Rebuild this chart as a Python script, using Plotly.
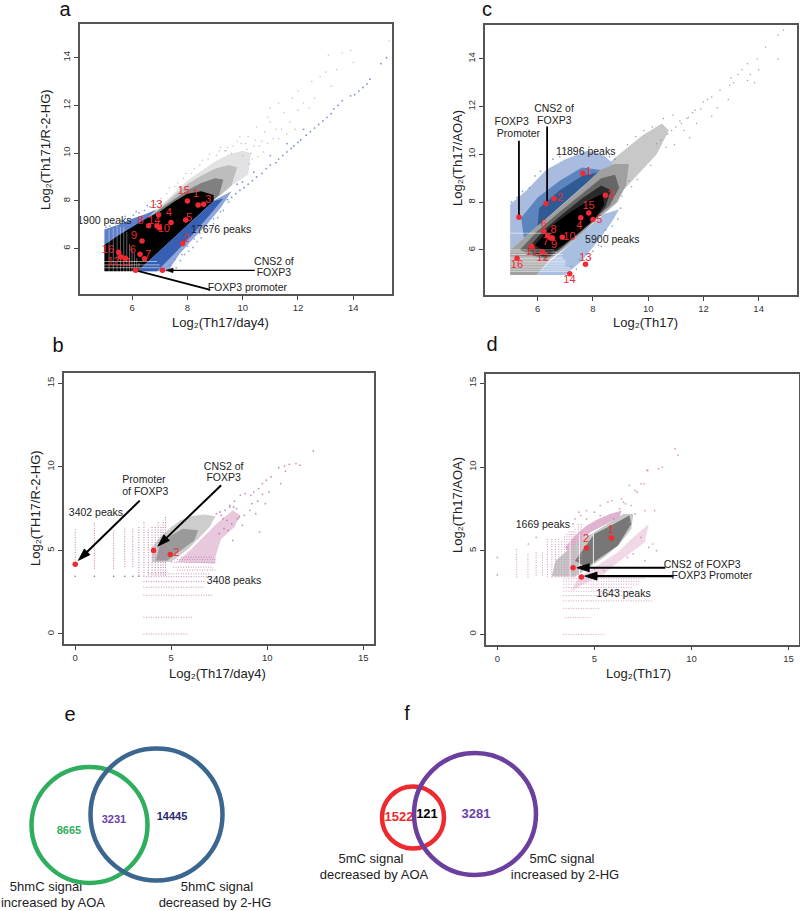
import plotly.graph_objects as go

# ---------- panel a ----------
a_gray_halo_x = [6.5,7,7.5,8,8.5,9,9.5,10,10.3,10.2,9.6,9.2,8.9]
a_gray_halo_y = [7.2,7.75,8.3,8.85,9.25,9.65,9.95,10.1,10.0,9.1,8.65,8.25,8.0]
a_gray_soft_x = [6.5,7,7.5,8,8.5,9,9.5,9.8,9.6,9.2,8.9]
a_gray_soft_y = [7.2,7.7,8.2,8.7,9.05,9.35,9.5,9.4,8.65,8.25,8.0]
a_gray_mid_x = [6.5,7,7.5,8,8.5,9,9.3,9.15,8.9]
a_gray_mid_y = [7.2,7.65,8.05,8.45,8.75,8.95,8.9,8.25,8.0]
a_black_x = [5,5,5.5,6,6.5,7,7.5,8,8.5,8.95,8.95,6.2]
a_black_y = [5.05,6.15,6.55,6.9,7.25,7.55,7.95,8.3,8.4,8.25,8.0,5.05]
a_blue_low_x = [6.2,7.3,7.7,8.2,8.7,9.2,9.6,9.0]
a_blue_low_y = [5.05,5.05,5.75,6.4,7.0,7.7,8.4,8.05]
a_blue_solid_x = [6.2,6.9,7.5,8.2,8.8,9.3,8.95]
a_blue_solid_y = [5.05,5.05,5.75,6.6,7.4,8.1,8.0]
a_blue_up_x = [5,5,5.5,6,6.5,6.9,6.5,6,5.5]
a_blue_up_y = [6.1,6.8,7.0,7.25,7.45,7.65,7.2,6.85,6.5]
a_tail_blue_x = [15.2,15.0,14.6,14.5,14.35,14.2,14.05,13.9,13.6,13.45,13.3,13.2,13.05,12.9,12.75,12.6,12.45,12.3,12.1,12.0,11.85,11.75,11.6,11.45,11.3,11.2,11.0,10.85,10.7,10.5,10.35,10.2,10.05,9.9,9.75,9.6,9.45,11.0,11.6,12.2,10.4,10.0,9.8]
a_tail_blue_y = [14.0,13.75,13.1,12.9,12.75,12.6,12.45,12.4,12.2,12.0,11.85,11.65,11.5,11.35,11.2,11.05,10.9,10.75,10.55,10.45,10.3,10.2,10.05,9.9,9.75,9.6,9.5,9.35,9.15,9.0,8.85,8.7,8.55,8.45,8.3,8.15,8.05,9.9,10.4,11.0,9.2,8.8,8.7]
a_tail_gray_x = [13.1,13.6,13.9,13.0,13.4,12.5,12.8,13.2,12.0,11.8,11.3,11.0,11.5,12.0,12.4,11.0,10.5,10.8,10.2,10.1,9.9,9.2,10.4,10.7,11.2,11.7,12.2,12.6,10.0,10.3,9.6,9.4,10.9,11.4,9.8,15.3,14.0,10.55,10.6,10.9,11.1,10.35,10.45,11.3,11.6,11.9,10.15,10.25,10.75,9.45,9.15,8.8,8.55,8.25,7.95,7.65,7.35,7.05,6.75,8.45,8.75,9.05,9.35,9.65,9.95,8.15,7.85,7.55,7.25]
a_tail_gray_y = [14.1,14.2,14.3,13.4,13.5,13.0,13.2,12.8,12.6,12.3,12.1,11.9,11.7,11.8,11.9,11.3,11.1,10.9,10.7,10.4,10.7,10.25,10.3,10.5,11.0,11.3,12.1,12.3,9.9,10.0,10.0,10.1,11.5,11.0,10.5,14.7,13.8,9.85,10.3,10.4,10.6,9.75,10.55,10.6,10.8,11.0,10.15,9.55,10.05,10.25,10.1,9.95,9.7,9.35,9.15,8.75,8.55,8.1,7.8,9.5,9.75,9.9,10.1,10.3,10.4,9.15,8.95,8.6,8.3]
a_fringe_x = [5.05,5.2,5.4,5.6,5.85,6.05,6.25,6.45,6.65,6.85,7.05,5.3,5.75,6.15,6.55,7.45,7.6,7.75,7.9,8.05,8.2,8.35,8.5,8.65,8.8,8.95,9.1,9.3,7.35,7.55,7.8,8.0,8.25,8.45,8.7,8.95,9.2,9.5]
a_fringe_y = [6.9,6.95,7.05,7.15,7.25,7.4,7.5,7.6,7.75,7.85,7.95,7.1,7.35,7.55,7.8,5.1,5.2,5.5,5.75,5.9,6.05,6.3,6.45,6.7,6.85,7.05,7.3,7.6,5.3,5.55,5.75,6.1,6.4,6.65,6.95,7.25,7.55,7.95]
a_red_x = [8.0,8.39,8.59,6.96,7.41,7.94,6.6,6.9,6.98,6.36,7.83,6.29,6.45,5.52,5.59,5.76,6.13,7.1]
a_red_y = [8.0,7.83,7.86,7.42,7.1,7.2,6.96,6.96,6.87,6.32,6.22,5.76,5.58,5.85,5.66,5.6,5.09,5.09]
a_num_text = ["15","1","3","13","4","5","8","14","10","9","2","6","7","16","12","11"]
a_num_x = [7.87,8.31,8.76,6.88,7.33,8.06,6.31,6.8,7.15,6.07,7.96,6.03,6.58,5.13,5.33,5.78]
a_num_y = [8.4,8.26,8.03,7.8,7.5,7.27,7.13,7.16,6.8,6.52,6.4,5.93,5.72,5.93,5.44,5.4]
a_txt = ["1900 peaks","17676 peaks","CNS2 of","FOXP3","FOXP3 promoter"]
a_txt_x = [5.0,9.22,11.13,11.13,10.17]
a_txt_y = [7.15,6.77,5.44,4.95,4.33]
a_stripe_x = [5.17,5.32,5.46,5.58,5.7,5.81,5.91,6.0,6.09,6.17,6.25]
a_stripe_top = [6.8,6.85,6.95,6.9,6.9,6.7,6.2,6.0,5.8,5.6,5.4]
a_hstripe_y = [5.2,5.32,5.46]
a_hstripe_right = [7.0,7.0,6.9]
a_line_cns_x = [10.44,7.24]
a_line_cns_y = [5.09,5.09]
a_line_pro_x = [8.83,6.13]
a_line_pro_y = [4.27,5.09]

# ---------- panel c ----------
c_blue_pale_x = [5,5,5.6,6.3,7.0,7.8,8.4,8.75,8.3]
c_blue_pale_y = [6,7.9,8.5,9.35,9.8,10.15,9.95,9.6,9.3]
c_blue_mid_x = [5.5,5.4,6.0,6.8,7.6,8.3]
c_blue_mid_y = [6.5,7.35,8.2,8.9,9.45,9.35]
c_blue_dark_x = [6.0,6.05,6.8,7.6,8.2]
c_blue_dark_y = [7.0,7.75,8.5,9.1,9.25]
c_halo_x = [8.26,9.0,9.8,10.5,10.75,10.3,9.6,9.1,8.9,8.3]
c_halo_y = [9.35,10.05,10.8,11.3,11.0,10.0,9.1,8.5,8.0,7.4]
c_blue_low_x = [5.96,7.0,7.6,8.2,8.7,8.95,8.4,7.5,6.85,6.45]
c_blue_low_y = [4.95,4.95,5.55,6.4,7.2,7.7,7.5,6.6,5.9,5.55]
c_gray_x = [5,5,5.3,6,6.8,7.6,8.26,8.8,9.3,9.2,8.85,8.3,7.6,6.9,6.45,5.96]
c_gray_y = [4.95,6.0,6.3,7.0,7.8,8.6,9.35,9.6,9.6,8.7,8.0,7.45,6.7,6.0,5.6,4.95]
c_mid_x = [5.35,6.0,6.8,7.6,8.3,8.8,8.95,8.6,8.2,7.5,6.9,6.3]
c_mid_y = [6.0,6.8,7.6,8.35,9.0,9.15,8.6,7.85,7.45,6.75,6.1,5.55]
c_dark_x = [5.6,6.2,6.9,7.6,8.3,8.65,8.45,8.0,7.4,6.8,6.3]
c_dark_y = [6.0,6.8,7.5,8.15,8.7,8.5,7.8,7.2,6.6,6.05,5.65]
c_black_x = [5.9,6.5,7.2,7.9,8.35,8.4,8.1,7.5,6.9,6.4]
c_black_y = [6.2,7.0,7.6,8.1,8.35,7.9,7.35,6.75,6.2,5.85]
c_tail_x = [14.9,14.7,14.7,14.25,13.95,13.6,14.0,13.4,13.25,13.0,13.1,13.6,12.95,12.6,12.3,12.15,12.0,11.9,11.7,11.6,11.4,11.2,11.0,11.3,11.75,12.3,12.5,12.9,10.85,10.7,10.45,10.3,10.95,11.5,13.85,13.7,9.25,9.55,9.85,10.15,10.55,10.9,10.1,9.6,9.4,9.05,11.15,11.45,9.3,10.65]
c_tail_y = [15.2,15.0,14.0,14.5,14.0,13.8,13.55,13.55,13.35,13.2,13.0,13.1,12.9,12.7,12.4,12.3,12.2,11.9,11.85,11.75,11.5,11.3,11.15,11.0,11.3,11.6,11.95,12.3,11.0,10.85,10.6,10.45,10.4,10.7,13.0,13.35,10.4,10.75,11.0,11.15,11.5,11.65,9.55,8.95,8.65,8.25,11.4,11.55,8.9,10.3]
c_fringe_x = [5.05,5.25,5.45,5.7,5.9,6.1,6.35,6.55,6.8,7.0,7.3,7.55,7.85,8.1,8.35,8.6,8.8,7.1,7.4,7.75,8.0,8.3,8.55,8.9,7.2,7.5,7.9,8.2,8.45,8.7,9.0]
c_fringe_y = [8.0,8.2,8.45,8.6,9.1,9.3,9.5,9.8,9.9,10.2,10.15,10.2,10.3,10.1,10.2,9.9,9.8,4.95,5.2,5.4,5.95,6.15,6.6,7.3,5.3,5.6,5.65,6.2,6.85,7.0,7.75]
c_red_x = [7.63,6.59,8.45,7.56,8.0,6.22,6.36,6.47,6.53,6.89,5.78,6.17,7.73,7.16,7.85,5.25,6.3,5.32]
c_red_y = [9.21,8.14,8.29,7.35,7.27,6.78,6.59,6.5,6.5,6.53,6.15,5.92,5.4,5.0,7.55,5.65,7.94,7.37]
c_num_text = ["1","2","3","4","5","6","7","8","9","10","11","12","13","14","15","16"]
c_num_x = [7.84,6.81,8.65,7.51,8.23,6.22,6.29,6.57,6.59,7.15,5.77,6.18,7.73,7.15,7.84,5.25]
c_num_y = [9.25,8.17,8.31,6.99,7.25,7.09,6.34,6.82,6.2,6.54,5.9,5.64,5.65,4.75,7.82,5.37]
c_txt = ["FOXP3","Promoter","CNS2 of","FOXP3","11896 peaks","5900 peaks"]
c_txt_x = [5.06,5.3,6.59,6.6,7.74,8.7]
c_txt_y = [11.33,10.83,11.9,11.38,10.08,6.42]
c_hstripe_y = [5.1,5.17,5.25,5.32,5.4,5.46,5.52,5.58,5.64,5.7,5.81,5.91,6.0,6.7]
c_hstripe_right = [7.2,7.2,7.2,7.0,7.0,7.0,7.0,7.0,6.9,6.9,6.9,6.7,6.6,6.5]
c_line_pro_x = [5.32,5.32]
c_line_pro_y = [10.57,7.37]
c_line_cns_x = [6.34,6.34]
c_line_cns_y = [11.17,7.94]

# ---------- panel b ----------
b_cols_x = [0,1,2,2.58,3,3.32,3.58,3.81,4,4.17,4.32,4.46,4.58,4.7]
b_cols_lo = [4.4,3.9,3.9,4.0,4.0,3.5,3.5,3.5,3.5,3.5,3.5,3.5,3.5,3.5]
b_cols_hi = [6.3,6.7,6.2,6.4,6.3,6.4,6.7,6.3,6.4,6.4,6.7,6.5,6.8,7.0]
b_dots3_x = [0,1,2,2.58,3,3.32]
b_dots3_y = [3.45,3.45,3.45,3.45,3.45,3.45]
b_rows_y = [0,1,2.32,2.8,3.13,3.43,3.6,3.83,4.0,4.29,4.46,4.6]
b_rows_lo = [3.55,3.55,3.55,3.55,3.55,3.55,3.8,5.3,5.1,5.0,5.3,5.5]
b_rows_hi = [5.9,6.1,7.2,6.7,6.8,7.36,7.0,7.3,7.2,7.3,7.3,7.2]
b_pink_x = [5.3,5.97,6.84,7.36,8.2,8.6,8.3,7.6,7.3,7.3]
b_pink_y = [4.3,5.0,6.0,6.6,7.4,7.1,6.4,5.7,4.6,4.2]
b_gray_x = [4.0,4.0,4.5,5.0,5.5,6.0,6.7,7.3,7.0,6.5,5.9,5.0]
b_gray_y = [4.3,5.2,5.9,6.4,6.8,7.05,7.15,7.05,6.4,5.8,5.1,4.3]
b_gray2_x = [4.2,4.4,5.0,5.6,6.4,6.2,5.5,4.8]
b_gray2_y = [4.4,5.3,5.9,6.3,6.2,5.6,5.0,4.4]
b_tail_x = [12.4,11.7,11.5,11.15,10.9,10.6,10.95,10.2,9.95,9.75,9.55,9.3,9.15,9.2,9.5,9.75,10.1,8.85,8.6,8.3,8.05,7.8,7.55,8.25,8.55,8.8,9.1,9.4,7.9,8.4,7.7,7.6,8.05,8.7,9.6,10.7,9.9,7.95,8.15,8.45,7.35,7.5,7.75,8.2]
b_tail_y = [10.95,10.1,10.2,10.15,10.05,9.95,9.75,9.4,9.2,9.0,8.7,8.5,8.3,7.8,7.95,8.35,8.5,8.4,8.3,7.95,7.7,7.4,7.3,7.6,7.0,7.1,7.4,7.2,6.8,7.5,6.9,7.1,7.6,6.5,6.1,9.0,7.8,6.2,6.6,6.9,7.2,6.0,6.3,5.6]
b_red_x = [0,4.08,4.95]
b_red_y = [4.17,4.99,4.75]
b_num_text = ["2"]
b_num_x = [5.27]
b_num_y = [4.83]
b_txt = ["3402 peaks","Promoter","of FOXP3","CNS2 of","FOXP3","3408 peaks"]
b_txt_x = [1.08,3.58,3.65,7.73,7.73,8.27]
b_txt_y = [7.2,9.19,8.49,10.0,9.3,3.15]
b_line_pro_x = [3.36,0.16]
b_line_pro_y = [7.98,4.4]
b_line_cns_x = [7.6,4.3]
b_line_cns_y = [8.9,5.25]

# ---------- panel d ----------
d_cols_x = [1,1.58,2,2.32,2.58,2.81,3,3.17,3.32,3.46,3.58,3.7,3.81,3.91,4,4.17,4.32]
d_cols_lo = [3.4,3.4,3.5,3.5,3.4,3.4,3.4,3.4,3.4,3.4,3.4,3.4,3.4,3.4,3.4,3.4,3.4]
d_cols_hi = [5.1,4.9,5.0,5.0,5.7,5.7,5.7,5.7,5.6,5.9,6.0,6.2,6.2,6.2,6.4,6.6,6.6]
d_dots_x = [0,0,2,1.6,4.6,4.2,5.3,5.7,6.4,7.2,8.2,8.0,7.8,7.6,7.0,7.4,6.7,6.2,5.5,4.9,5.0,5.9,6.3,6.6,6.8,7.4,7.7,7.1,6.5,9.15,9.3,8.5,8.3,7.75,7.55,6.8,7.1,3.9,4.0,4.3,4.6,5.0,5.3,6.0,6.9,7.6,8.1]
d_dots_y = [3.55,4.6,5.8,5.4,7.4,7.3,7.7,7.9,8.1,8.5,5.0,5.4,5.2,4.4,4.8,5.8,4.6,4.0,3.8,3.6,3.9,8.0,7.5,7.8,8.9,9.0,9.8,8.6,7.9,11.1,10.7,10.0,9.9,9.8,9.0,6.7,7.2,6.6,6.9,7.1,6.9,7.3,7.1,6.9,7.7,7.4,7.4]
d_rows_y = [0,1,1.55,2,2.32,2.58,2.8,3,3.17,3.32]
d_rows_lo = [3.4,3.5,3.4,3.4,3.4,3.4,3.4,3.4,3.4,3.4]
d_rows_hi = [5.5,4.8,5.3,8.0,6.5,6.9,7.0,7.3,7.4,7.6]
d_gray_x = [2.8,3.0,3.6,4.2,5.0,5.8,6.5,7.0,6.9,6.3,5.6,5.0,4.5,4.0]
d_gray_y = [3.45,4.4,5.0,5.6,6.1,6.7,7.2,7.2,6.3,5.4,4.7,4.2,3.8,3.45]
d_dark_x = [4.0,5.0,6.0,6.8,6.9,6.2,5.2,4.6]
d_dark_y = [4.4,6.0,6.6,7.1,6.6,5.3,4.5,4.0]
d_pink_up_x = [3.5,4.0,4.6,5.2,5.8,6.4,6.3,5.5,4.8,4.2,3.6]
d_pink_up_y = [5.2,5.9,6.5,6.9,7.2,7.4,7.0,6.5,6.1,5.5,5.0]
d_pink_low_x = [4.2,5.5,6.2,6.9,7.4,7.8,7.6,6.9,6.2,5.5,5.1,3.8]
d_pink_low_y = [3.4,4.4,4.9,5.7,6.2,6.6,5.5,4.9,4.3,3.6,3.4,2.6]
d_white_x = [3.75,4.23,4.95]
d_white_lo = [3.4,3.4,3.4]
d_white_hi = [5.6,6.0,6.0]
d_red_x = [5.88,4.59,3.9,4.33]
d_red_y = [5.76,5.16,3.98,3.43]
d_num_text = ["1","2"]
d_num_x = [5.85,4.57]
d_num_y = [6.2,5.66]
d_txt = ["1669 peaks","CNS2 of FOXP3","FOXP3 Promoter","1643 peaks"]
d_txt_x = [2.35,10.55,11.05,6.5]
d_txt_y = [6.5,4.1,3.48,2.37]
d_line_cns_x = [8.65,4.1]
d_line_cns_y = [3.98,3.98]
d_line_pro_x = [9.07,4.5]
d_line_pro_y = [3.48,3.48]

# ---------- axes ----------
a_ticks = [6,8,10,12,14]
b_ticks = [0,5,10,15]

# ---------- venn ----------
venn_cx = [89.5,156.5,413,475]
venn_cy = [825,814.5,817.5,814]
venn_r = [58,66,31,61]
venn_colors = ["#2fae5e","#3b6690","#ee2a2e","#6a3f9e"]
venn_num = ["8665","3231","14445","1522","121","3281"]
venn_num_x = [69,114,172,399,427,476]
venn_num_y = [831,820,817,818,815,815]
venn_num_col = ["#2fae5e","#6a3fa8","#2b2a70","#ee2a2e","#000000","#6a3fa8"]
venn_num_size = [11,11,11,13,13,13]
venn_lab = ["5hmC signal","increased by AOA","5hmC signal","decreased by 2-HG","5mC signal","decreased by AOA","5mC signal","increased by 2-HG"]
venn_lab_x = [46,53,217,215,371,374,562,565]
venn_lab_y = [888,904,888,904,860,876,860,876]
letters = ["a","c","b","d","e","f"]
letters_x = [65,487,58,492,70,407]
letters_y = [11,11,347,346,716,715]

W, H = 800, 911
FONT = "Liberation Sans, Arial, sans-serif"
fig = go.Figure()
panels = {
    "a": dict(ax="", box=(79.5, 392, 24, 294), xr=[4.10,15.4], yr=[4.10,15.41], ticks=a_ticks),
    "b": dict(ax="2", box=(63.7, 374, 373.3, 644), xr=[-0.6,15.56], yr=[-0.6,15.6], ticks=b_ticks),
    "c": dict(ax="3", box=(484.7, 797.3, 25, 295.3), xr=[4.08,15.4], yr=[4.1,15.42], ticks=a_ticks),
    "d": dict(ax="4", box=(486, 799.3, 373.7, 644.7), xr=[-0.58,15.55], yr=[-0.62,15.58], ticks=b_ticks),
}
def fx(p): return p / W
def fy(p): return 1 - p / H

layout = dict(width=W, height=H, margin=dict(l=0,r=0,t=0,b=0,autoexpand=False), paper_bgcolor="white", plot_bgcolor="rgba(0,0,0,0)",
              showlegend=False, font=dict(family=FONT, color="#222"))
for k, p in panels.items():
    l, r, t, b = p["box"]
    layout["xaxis"+p["ax"]] = dict(domain=[fx(l), fx(r)], range=p["xr"], tickvals=p["ticks"], ticks="outside", ticklen=4,
        tickcolor="#444", showline=True, mirror=True, linecolor="#555", linewidth=1.5, showgrid=False, zeroline=False,
        tickfont=dict(size=9.5, color="#333"), anchor="y"+p["ax"])
    layout["yaxis"+p["ax"]] = dict(domain=[fy(b), fy(t)], range=p["yr"], tickvals=p["ticks"], ticks="outside", ticklen=4,
        tickcolor="#444", showline=True, mirror=True, linecolor="#555", linewidth=1.5, showgrid=False, zeroline=False,
        tickfont=dict(size=9.5, color="#333"), tickangle=-90, anchor="x"+p["ax"])
layout["xaxis5"] = dict(domain=[0,1], range=[0,W], visible=False, anchor="y5")
layout["yaxis5"] = dict(domain=[0,1], range=[H,0], visible=False, anchor="x5")
fig.update_layout(**layout)

def refs(k):
    s = panels[k]["ax"]
    return dict(xaxis="x"+s, yaxis="y"+s)

def poly(k, xs, ys, color):
    fig.add_trace(go.Scatter(x=list(xs)+[xs[0]], y=list(ys)+[ys[0]], mode="lines", fill="toself", fillcolor=color,
                             line=dict(width=0, color=color), hoverinfo="skip", **refs(k)))

def dots(k, xs, ys, color, size=1.6, opacity=0.7):
    fig.add_trace(go.Scatter(x=xs, y=ys, mode="markers", marker=dict(color=color, size=size, opacity=opacity, line=dict(width=0)),
                             hoverinfo="skip", **refs(k)))

def red(k, xs, ys):
    dots(k, xs, ys, "#ee2a33", size=5.5, opacity=1)

def texts(k, labels, xs, ys, color="#222", size=10.5):
    fig.add_trace(go.Scatter(x=xs, y=ys, text=labels, mode="text", textposition="middle center",
                             textfont=dict(color=color, size=size, family=FONT), hoverinfo="skip", cliponaxis=False, **refs(k)))

def vlines(k, xs, lo, hi, color, width=0.8, dash=None):
    X, Y = [], []
    for x, a, b in zip(xs, lo, hi):
        X += [x, x, None]; Y += [a, b, None]
    fig.add_trace(go.Scatter(x=X, y=Y, mode="lines", line=dict(color=color, width=width, dash=dash), hoverinfo="skip", **refs(k)))

def hlines(k, ys, lo, hi, color, width=0.8, dash=None):
    X, Y = [], []
    for y, a, b in zip(ys, lo, hi):
        X += [a, b, None]; Y += [y, y, None]
    fig.add_trace(go.Scatter(x=X, y=Y, mode="lines", line=dict(color=color, width=width, dash=dash), hoverinfo="skip", **refs(k)))

def leader(k, xs, ys, head=0, width=1.8):
    # a black leader line; head > 0 puts an arrow marker on its last point
    fig.add_trace(go.Scatter(x=xs, y=ys, mode="lines+markers", line=dict(color="#000", width=width),
                             marker=dict(symbol="arrow", angleref="previous", size=[0, head], color="#000", opacity=1,
                                         line=dict(width=0.8, color="#000")),
                             hoverinfo="skip", **refs(k)))

# panel a
poly("a", a_gray_halo_x, a_gray_halo_y, "#e2e2e2")
poly("a", a_gray_soft_x, a_gray_soft_y, "#bdbdbd")
poly("a", a_gray_mid_x, a_gray_mid_y, "#808080")
poly("a", a_blue_low_x, a_blue_low_y, "#8fa6dc")
poly("a", a_blue_up_x, a_blue_up_y, "#5f80c8")
dots("a", a_fringe_x, a_fringe_y, "#6c88d0", 1.7, 0.8)
poly("a", a_black_x, a_black_y, "#000000")
poly("a", a_blue_solid_x, a_blue_solid_y, "#3560b4")
dots("a", a_tail_gray_x, a_tail_gray_y, "#999999", 1.5, 0.6)
dots("a", a_tail_blue_x, a_tail_blue_y, "#5a78c8", 1.8, 0.8)
vlines("a", a_stripe_x, [5.0]*len(a_stripe_x), a_stripe_top, "rgba(255,255,255,0.55)", 0.7)
hlines("a", a_hstripe_y, [5.0]*len(a_hstripe_y), a_hstripe_right, "rgba(255,255,255,0.7)", 0.8)
leader("a", a_line_cns_x, a_line_cns_y, 7, 1.3)
leader("a", a_line_pro_x, a_line_pro_y, 0, 1.8)
red("a", a_red_x, a_red_y)
texts("a", a_num_text, a_num_x, a_num_y, "#ee2a33", 11)
texts("a", a_txt, a_txt_x, a_txt_y)

# panel c
poly("c", c_halo_x, c_halo_y, "#c8c8c8")
poly("c", c_blue_pale_x, c_blue_pale_y, "#a9bcdf")
poly("c", c_blue_mid_x, c_blue_mid_y, "#5c84bd")
poly("c", c_blue_dark_x, c_blue_dark_y, "#2f5a94")
poly("c", c_blue_low_x, c_blue_low_y, "#a9bfe2")
dots("c", c_fringe_x, c_fringe_y, "#6a8cc4", 1.7, 0.8)
poly("c", c_gray_x, c_gray_y, "#a0a0a0")
poly("c", c_mid_x, c_mid_y, "#666666")
poly("c", c_dark_x, c_dark_y, "#2a2a2a")
poly("c", c_black_x, c_black_y, "#000000")
dots("c", c_tail_x, c_tail_y, "#777777", 1.5, 0.7)
hlines("c", c_hstripe_y, [5.0]*len(c_hstripe_y), c_hstripe_right, "rgba(255,255,255,0.75)", 0.7)
leader("c", c_line_pro_x, c_line_pro_y, 0, 1.8)
leader("c", c_line_cns_x, c_line_cns_y, 0, 1.8)
red("c", c_red_x, c_red_y)
texts("c", c_num_text, c_num_x, c_num_y, "#ee2a33", 11)
texts("c", c_txt, c_txt_x, c_txt_y)

# panel b
poly("b", b_pink_x, b_pink_y, "#e8c8dc")
poly("b", b_gray_x, b_gray_y, "#cdcdcd")
poly("b", b_gray2_x, b_gray2_y, "#9a9a9a")
vlines("b", b_cols_x, b_cols_lo, b_cols_hi, "#bd7aa6", 1, "1px,1.5px")
hlines("b", b_rows_y, b_rows_lo, b_rows_hi, "#c78ab1", 1, "1px,1.5px")
dots("b", b_dots3_x, b_dots3_y, "#666666", 1.6, 0.9)
dots("b", b_tail_x, b_tail_y, "#c46fa6", 1.8, 0.8)
leader("b", b_line_pro_x, b_line_pro_y, 13, 2)
leader("b", b_line_cns_x, b_line_cns_y, 13, 2)
red("b", b_red_x, b_red_y)
texts("b", b_num_text, b_num_x, b_num_y, "#ee2a33", 11)
texts("b", b_txt, b_txt_x, b_txt_y)

# panel d
poly("d", d_pink_low_x, d_pink_low_y, "#f0d8e6")
poly("d", d_pink_up_x, d_pink_up_y, "#e0b4d0")
poly("d", d_gray_x, d_gray_y, "#c6c6c6")
poly("d", d_dark_x, d_dark_y, "#777777")
vlines("d", d_cols_x, d_cols_lo, d_cols_hi, "#cf94bb", 1, "1px,1.5px")
hlines("d", d_rows_y, d_rows_lo, d_rows_hi, "#d59fc1", 1, "1px,1.5px")
vlines("d", d_white_x, d_white_lo, d_white_hi, "rgba(255,255,255,0.8)", 1)
dots("d", d_dots_x, d_dots_y, "#c87fb0", 1.7, 0.8)
leader("d", d_line_cns_x, d_line_cns_y, 13, 1.8)
leader("d", d_line_pro_x, d_line_pro_y, 13, 2.2)
red("d", d_red_x, d_red_y)
texts("d", d_num_text, d_num_x, d_num_y, "#ee2a33", 11)
texts("d", d_txt, d_txt_x, d_txt_y)

# venn
for cx, cy, r, c in zip(venn_cx, venn_cy, venn_r, venn_colors):
    fig.add_shape(type="circle", xref="x5", yref="y5", x0=cx-r, x1=cx+r, y0=cy-r, y1=cy+r,
                  line=dict(color=c, width=4.5), fillcolor="rgba(0,0,0,0)")
fig.add_trace(go.Scatter(x=venn_num_x, y=venn_num_y, text=venn_num, mode="text", xaxis="x5", yaxis="y5", hoverinfo="skip",
                         textfont=dict(color=venn_num_col, size=venn_num_size, family=FONT, weight="bold")))
fig.add_trace(go.Scatter(x=venn_lab_x, y=venn_lab_y, text=venn_lab, mode="text", xaxis="x5", yaxis="y5", hoverinfo="skip",
                         textfont=dict(color="#222", size=13, family=FONT)))
fig.add_trace(go.Scatter(x=letters_x, y=letters_y, text=letters, mode="text", xaxis="x5", yaxis="y5", hoverinfo="skip",
                         cliponaxis=False, textfont=dict(color="#111", size=20, family=FONT)))

# axis titles
titles = [
    ("Log\u2082(Th17/day4)", 220, 323, 0), ("Log\u2082(Th171/R-2-HG)", 45, 150, -90),
    ("Log\u2082(Th17)", 645, 323, 0), ("Log\u2082(Th17/AOA)", 457, 158, -90),
    ("Log\u2082(Th17/day4)", 217, 673, 0), ("Log\u2082(TH17/R-2-HG)", 35, 508, -90),
    ("Log\u2082(Th17)", 638, 673, 0), ("Log\u2082(Th17/AOA)", 457, 505, -90),
]
for t, x, y, rot in titles:
    fig.add_annotation(text=t, x=fx(x), y=fy(y), xref="paper", yref="paper", xanchor="center", yanchor="middle",
                       showarrow=False, textangle=rot, font=dict(size=13, color="#222", family=FONT))

fig.write_html("out.html", config={"displayModeBar": False}, post_script="document.body.style.margin='0';")
